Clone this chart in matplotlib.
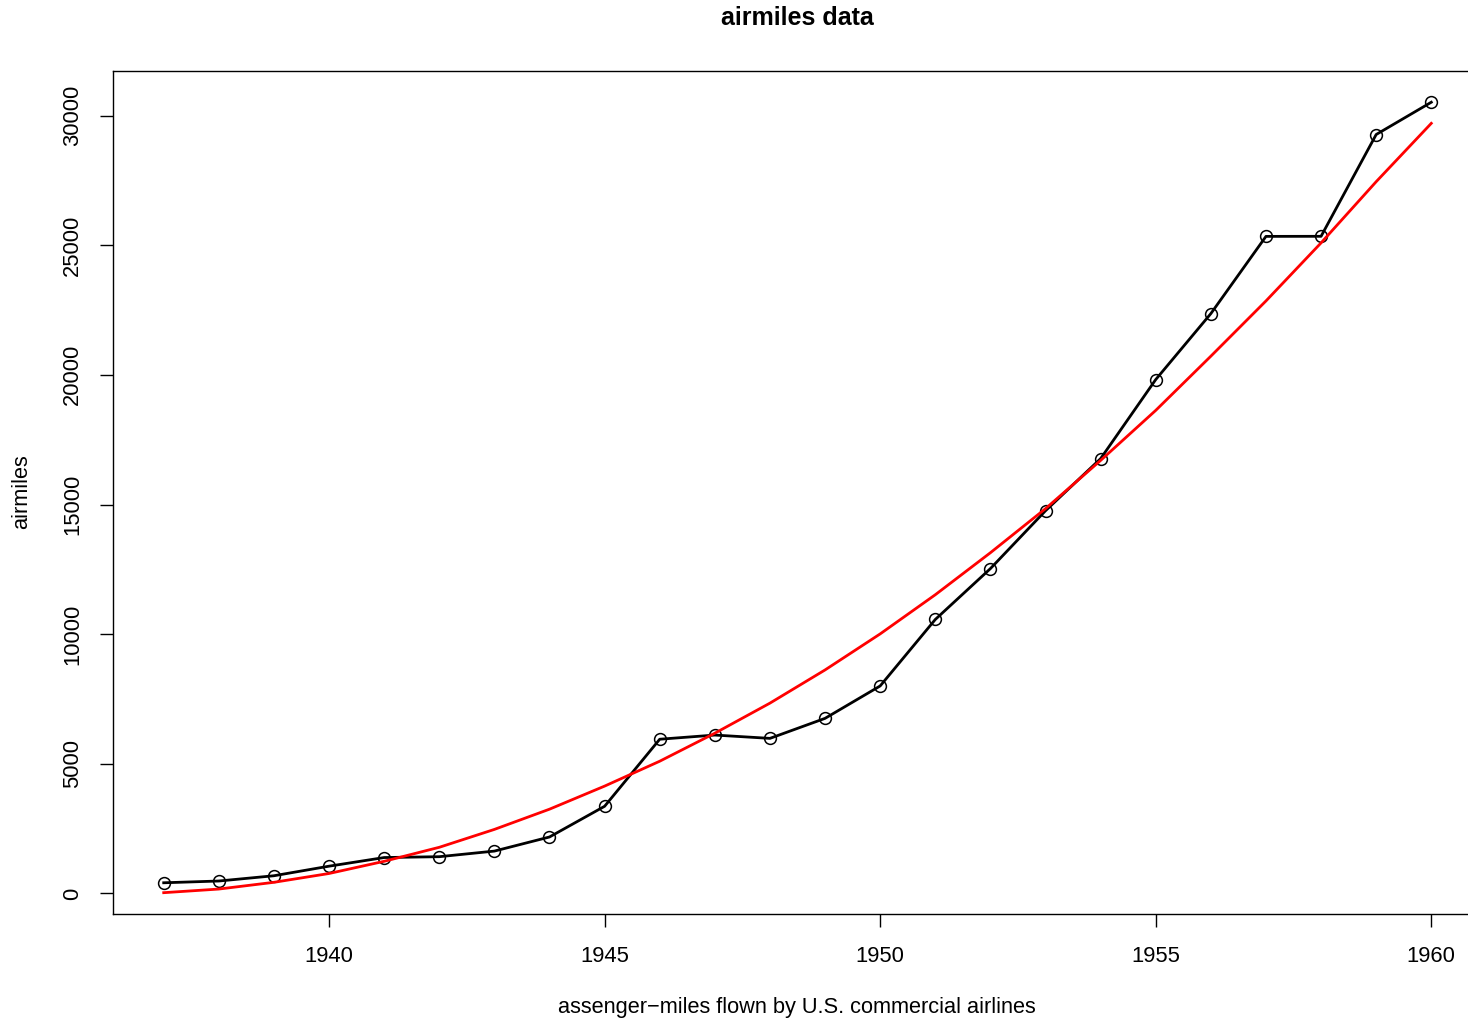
import matplotlib
matplotlib.use("Agg")
import matplotlib.pyplot as plt

plt.rcParams['font.family'] = ['Liberation Sans', 'DejaVu Sans']

years = list(range(1937, 1961))
airmiles = [412, 480, 683, 1052, 1385, 1418, 1634, 2178, 3362, 5948, 6109, 5981,
            6753, 8003, 10566, 12528, 14760, 16769, 19819, 22362, 25340, 25343,
            29269, 30514]
# fitted curve
fitted = [30, 170, 430, 770, 1240, 1780, 2470, 3250, 4140, 5100, 6180, 7340,
          8620, 10010, 11520, 13140, 14840, 16700, 18630, 20720, 22850, 25090,
          27450, 29700]

W, H = 1468, 1019
fig = plt.figure(figsize=(W / 100, H / 100), dpi=100)
# plot region runs past the right edge of the image, as in the original
ax = fig.add_axes([113 / W, 1 - 914 / H, (1482 - 113) / W, (914 - 71) / H])

ax.plot(years, airmiles, color='black', lw=2.0, marker='o', markersize=8.5,
        markerfacecolor='none', markeredgewidth=1.1)
ax.plot(years, fitted, color='red', lw=2.0)

span = airmiles[-1] - airmiles[0]
ax.set_xlim(1937 - 0.04 * 23, 1960 + 0.04 * 23)
ax.set_ylim(airmiles[0] - 0.04 * span, airmiles[-1] + 0.04 * span)

ax.set_xticks([1940, 1945, 1950, 1955, 1960])
ax.set_yticks([0, 5000, 10000, 15000, 20000, 25000, 30000])
for lab in ax.get_yticklabels():
    lab.set_rotation(90)
    lab.set_va('center')
ax.tick_params(labelsize=15.8, length=9.4, width=1)
ax.tick_params(axis='x', pad=13.5)
ax.tick_params(axis='y', pad=12)
for s in ax.spines.values():
    s.set_linewidth(1)

fig.text(797 / W, 1 - 18 / H, 'airmiles data', fontsize=18, fontweight='bold',
         ha='center', va='center')
fig.text(797 / W, 1 - 1007 / H, 'assenger\u2212miles flown by U.S. commercial airlines',
         fontsize=15.7, ha='center', va='center')
fig.text(22 / W, 1 - 492 / H, 'airmiles', fontsize=15.7, rotation=90,
         ha='center', va='center')

fig.savefig('out.png', dpi=100)
